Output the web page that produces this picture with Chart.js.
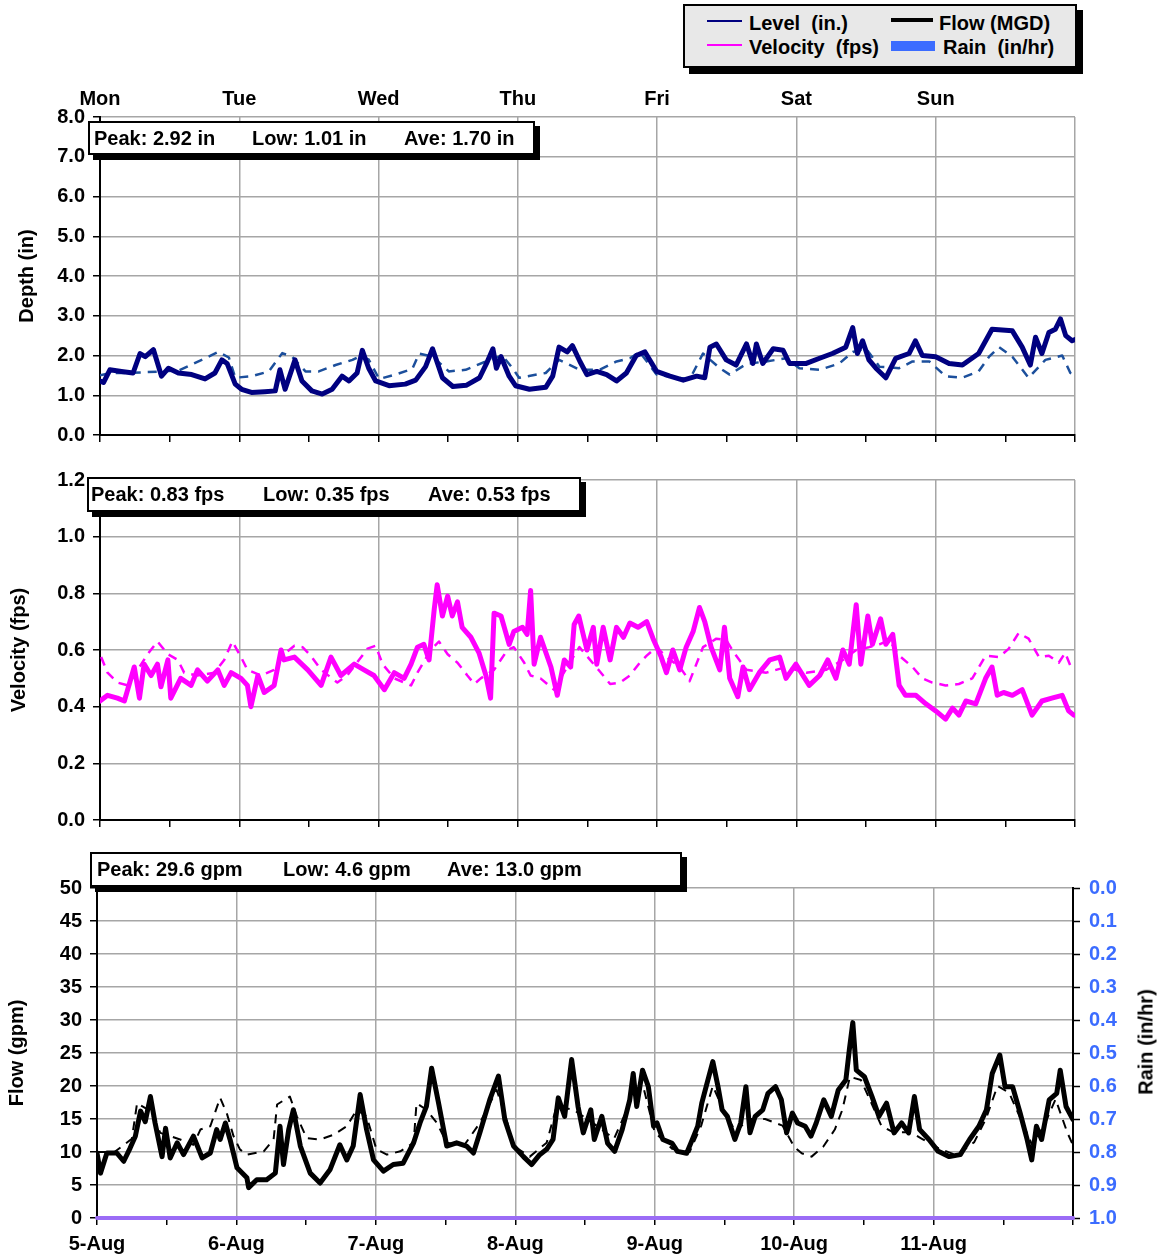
<!DOCTYPE html>
<html>
<head>
<meta charset="utf-8">
<script src="https://cdn.jsdelivr.net/npm/chart.js@4.4.1/dist/chart.umd.min.js"></script>
<style>
    body { margin: 0; background: #fff; font-family: 'Liberation Sans', Arial, sans-serif; }
    #page { position: relative; width: 1162px; height: 1260px; overflow: hidden; }
    canvas { position: absolute; left: 0; }
    .box {
        position: absolute; background: #fff; border: 2px solid #000;
        box-shadow: 5px 5px 0 #000; font-weight: bold; font-size: 20px;
        box-sizing: border-box; z-index: 5; white-space: nowrap;
    }
    .box span { position: absolute; top: 4px; }
    #legend { background: #e8e8e8; box-shadow: 6px 6px 0 #000; }
    .rot { position: absolute; font-weight: bold; font-size: 20px; transform: translate(-50%, -50%) rotate(-90deg); white-space: nowrap; }
</style>
</head>
<body>
<div id="page">
    <div id="legend" class="box" style="left:683px; top:4px; width:394px; height:64px;">
        <div style="position:absolute; left:22px; top:14px; width:35px; height:2px; background:#000080;"></div>
        <span style="left:64px; top:6px;">Level&nbsp; (in.)</span>
        <div style="position:absolute; left:22px; top:38px; width:35px; height:2px; background:#ff00ff;"></div>
        <span style="left:64px; top:30px;">Velocity&nbsp; (fps)</span>
        <div style="position:absolute; left:206px; top:12px; width:42px; height:4px; background:#000;"></div>
        <span style="left:254px; top:6px;">Flow (MGD)</span>
        <div style="position:absolute; left:206px; top:35px; width:44px; height:10px; background:#3b6cff;"></div>
        <span style="left:258px; top:30px;">Rain&nbsp; (in/hr)</span>
    </div>

    <canvas id="levelChart" width="1162" height="375" style="top:80px"></canvas>
    <canvas id="velocityChart" width="1162" height="380" style="top:460px"></canvas>
    <canvas id="flowChart" width="1162" height="415" style="top:845px"></canvas>

    <div class="box" style="left:88px; top:121px; width:447px; height:34px;">
        <span style="left:4px;">Peak: 2.92 in</span>
        <span style="left:162px;">Low: 1.01 in</span>
        <span style="left:314px;">Ave: 1.70 in</span>
    </div>
    <div class="box" style="left:87px; top:477px; width:494px; height:35px;">
        <span style="left:2px;">Peak: 0.83 fps</span>
        <span style="left:174px;">Low: 0.35 fps</span>
        <span style="left:339px;">Ave: 0.53 fps</span>
    </div>
    <div class="box" style="left:90px; top:852px; width:592px; height:35px;">
        <span style="left:5px;">Peak: 29.6 gpm</span>
        <span style="left:191px;">Low: 4.6 gpm</span>
        <span style="left:355px;">Ave: 13.0 gpm</span>
    </div>

    <div class="rot" style="left:1146px; top:1042px;">Rain (in/hr)</div>
</div>

<script>
// time axis is in hours from Monday 00:00 (0..168)
const dayNames = ['Mon', 'Tue', 'Wed', 'Thu', 'Fri', 'Sat', 'Sun'];
const dateLabels = ['5-Aug', '6-Aug', '7-Aug', '8-Aug', '9-Aug', '10-Aug', '11-Aug'];

// Level (in)
const levelTimes = [0,0.6,1.7,3.7,5.7,6.9,7.8,9.2,10.6,11.8,13.5,15.8,18.1,19.8,21,21.9,23.3,24.4,26.1,28.4,30.2,31,31.9,33.6,34.8,36.5,38.3,40,41.7,42.9,44.3,45.2,46.3,47.5,49.8,52.6,54.4,56.1,57.3,59,60.8,63.1,65.4,66.6,67.7,68.3,69.1,70.5,71.6,74,76.8,78,79.1,80.5,81.4,82.7,83.9,85.6,87.3,89,90.7,92.4,93.9,95.9,98.2,100.5,102.8,104.2,105.1,106.2,107.9,109.6,111.4,112.5,113.1,114.2,116,117.7,118.8,121.7,124,126.2,128.5,129.7,130.5,131.4,132.5,133.7,135.4,137.1,139.4,140.5,141.7,144,146.3,148.6,151.4,153.7,157.2,158.9,160.3,161.2,162.3,163.5,164.6,165.5,166.4,167.5,168];
const levelValues = [1.36,1.32,1.64,1.6,1.56,2.05,1.97,2.15,1.48,1.68,1.56,1.52,1.41,1.56,1.89,1.8,1.28,1.15,1.07,1.09,1.11,1.64,1.15,1.89,1.36,1.11,1.03,1.15,1.48,1.36,1.56,2.13,1.68,1.36,1.24,1.28,1.38,1.72,2.17,1.44,1.22,1.25,1.44,1.8,2.17,1.68,1.97,1.48,1.24,1.15,1.2,1.48,2.21,2.09,2.25,1.85,1.52,1.6,1.52,1.36,1.56,2.0,2.09,1.6,1.48,1.38,1.48,1.44,2.21,2.29,1.89,1.76,2.29,1.8,2.29,1.8,2.17,2.13,1.8,1.8,1.93,2.05,2.21,2.7,2.05,2.37,1.89,1.68,1.44,1.93,2.05,2.37,2.0,1.97,1.8,1.76,2.05,2.66,2.62,2.21,1.76,2.46,2.05,2.58,2.66,2.92,2.5,2.37,2.4];
const levelPrevTimes = [0,2,4.9,10.6,13.5,18.1,20.4,22.2,23.3,26.2,29.1,31.4,33.1,35.4,37.7,40.6,43.5,44.6,46.3,48.1,50.9,53.8,55,57.3,60.1,63,66.5,69.3,71.1,72.2,76.8,79.1,82.7,86.1,89,91.3,93,95.9,101.6,103.9,106.8,108.5,111.4,114.8,118.2,120.5,124,127.4,129.7,132,134.3,137.7,140,142.9,145.7,148.6,151.4,153.2,154.9,157.2,160,162.9,165.8,167.2,168];
const levelPrevValues = [1.5,1.56,1.56,1.6,1.62,1.93,2.09,1.95,1.44,1.48,1.6,2.06,1.97,1.6,1.6,1.76,1.89,1.97,1.9,1.41,1.52,1.66,2.05,1.97,1.6,1.64,1.85,2.0,1.68,1.44,1.56,1.89,1.64,1.64,1.85,1.93,2.09,1.52,1.4,2.05,1.68,1.52,1.79,1.85,1.93,1.68,1.64,1.8,2.09,2.17,1.72,1.68,1.85,1.85,1.48,1.44,1.6,1.97,2.21,1.97,1.44,1.89,2.0,1.56,1.5];

// Velocity (fps)
const velocityTimes = [0,1.3,3,4.2,5.9,6.8,7.6,8.8,9.9,10.5,11.7,12.2,13.9,15.7,16.8,18.5,20.3,21.4,22.6,24.3,25.4,26,27.2,28.3,30,31.2,31.7,33.5,35.8,38.1,39.8,41.5,43.8,45.5,47.2,49,50.7,52.4,53.6,54.7,55.8,56.7,57.6,58.1,59,59.9,60.7,61.6,62.4,63.9,65.3,66.5,67.3,67.9,69.1,70.5,71.3,72.8,73.6,74.2,74.8,75.9,77.7,78.8,80,81.1,81.7,82.5,83.9,85,85.6,86.7,87.9,89,90.2,91.3,92.7,94.2,95.3,96.7,97.6,98.7,99.9,101,102.2,103.3,104.2,105.3,106.8,107.6,108.5,109.9,110.8,111.9,113.6,115.4,117.1,118.2,119.9,122.2,124,125.4,126.8,128,129.1,130.3,131.1,132.3,133.1,134.5,135.4,136.6,137.7,138.8,140.6,142.3,144,145.7,146.9,148,149.2,150.9,152.6,153.7,154.6,155.7,157.2,158.9,160.6,162.3,164,165.8,166.9,167.8];
const velocityValues = [0.42,0.44,0.43,0.42,0.54,0.43,0.55,0.51,0.55,0.47,0.565,0.43,0.5,0.475,0.53,0.49,0.53,0.475,0.52,0.5,0.475,0.4,0.51,0.45,0.475,0.6,0.565,0.575,0.53,0.475,0.575,0.51,0.55,0.53,0.51,0.46,0.52,0.5,0.55,0.61,0.62,0.565,0.746,0.83,0.72,0.79,0.72,0.77,0.68,0.645,0.59,0.51,0.43,0.73,0.72,0.62,0.665,0.68,0.655,0.81,0.55,0.645,0.54,0.44,0.565,0.54,0.69,0.72,0.6,0.68,0.55,0.68,0.565,0.68,0.645,0.695,0.68,0.7,0.64,0.575,0.52,0.6,0.53,0.61,0.665,0.75,0.7,0.61,0.53,0.68,0.5,0.435,0.54,0.46,0.52,0.565,0.575,0.5,0.55,0.475,0.51,0.565,0.5,0.6,0.55,0.76,0.55,0.72,0.62,0.71,0.62,0.655,0.475,0.44,0.44,0.41,0.385,0.356,0.395,0.37,0.42,0.41,0.5,0.54,0.44,0.45,0.44,0.46,0.37,0.42,0.43,0.44,0.385,0.37];
const velocityPrevTimes = [0.2,1.3,3,4.8,8.2,9.9,11.7,13.4,14.5,16.8,19.7,21.4,22.8,24.3,25.4,27.7,30,31.7,33.5,34.9,36.3,38.1,40.9,42.6,46.1,47.5,48.7,50.7,53.6,54.7,57,58.4,59.9,61.6,63.3,64.5,65.6,67.9,70.2,71.3,73.1,74.2,75.9,78.2,80.5,82.6,86.1,87.9,89.6,91.3,93,94.2,95.9,97.6,99.9,101.6,103.9,106.2,107.9,109.1,111.4,114.8,118.2,121.7,125.1,128,130.3,132.5,134.3,136,137.7,140,141.7,143.4,145.7,148,150.3,152.6,154.9,156.6,158.3,160,161.8,163.5,165.2,166.3,167.5];
const velocityPrevValues = [0.575,0.52,0.485,0.475,0.585,0.63,0.585,0.565,0.52,0.51,0.52,0.565,0.63,0.575,0.53,0.51,0.53,0.585,0.615,0.61,0.58,0.53,0.485,0.51,0.605,0.615,0.55,0.5,0.475,0.52,0.6,0.63,0.585,0.555,0.51,0.48,0.5,0.53,0.6,0.61,0.555,0.51,0.5,0.46,0.54,0.61,0.525,0.48,0.485,0.51,0.555,0.58,0.61,0.575,0.54,0.49,0.61,0.64,0.635,0.595,0.53,0.52,0.54,0.52,0.53,0.565,0.6,0.61,0.62,0.635,0.58,0.54,0.5,0.485,0.475,0.48,0.5,0.58,0.575,0.605,0.66,0.64,0.575,0.58,0.555,0.59,0.53];

// Flow (gpm)
const flowTimes = [0,0.6,1.7,3.4,4.6,5.7,6.6,7.5,8.3,9.2,10,11.2,11.8,12.6,13.8,14.9,16.6,18.1,19.5,20.6,21.2,22.1,22.9,24.1,25.8,26.1,27.5,29.2,30.7,31.5,32.1,33,33.8,35,36.7,38.4,40.1,41.8,43,44.1,45.3,46.4,47.6,49.3,51,52.7,54.5,55.6,56.7,57.6,58.8,60.2,61.9,63.6,64.8,65.9,67.6,69.1,70.2,71.7,73.4,74.8,76.2,77.4,78.5,79.4,80.5,81.7,82.8,83.7,85,85.6,86.9,87.9,89.1,90.4,91.7,92.3,92.9,93.9,94.9,95.8,96.4,97.4,99,99.9,101.5,102.2,103.4,104.1,105,106,106.9,107.6,108.5,109.8,110.8,111.7,112.4,113.3,114.6,115.5,116.8,117.8,118.7,119.7,120.6,121.9,122.9,123.8,125.1,126.4,127.6,128.9,129.5,130.1,130.7,132.1,133.4,134.6,135.9,137.2,138.5,139.7,140.7,141.6,143.2,144.8,146.7,148.6,150.2,151.8,153.1,154.1,155.4,156.3,157.6,158.9,160.1,160.9,161.7,162.6,163.9,165.2,165.8,166.8,168];
const flowValues = [9.85,6.8,9.85,9.85,8.6,10.6,12.4,16.2,14.6,18.4,14.4,9.3,13.6,9.1,11.4,9.6,12.4,9.1,9.85,13.4,11.9,14.4,11.9,7.6,6.1,4.6,5.8,5.8,6.8,13.9,8.1,13.4,16.4,10.9,6.8,5.3,7.3,11.1,8.8,10.9,18.7,13.4,8.8,7.1,8.1,8.3,11.4,14.4,16.9,22.7,17.4,10.9,11.4,10.9,9.85,12.9,17.9,21.5,14.9,10.9,9.3,8.1,9.6,10.4,11.9,18.2,15.4,24,16.9,12.9,16.4,11.9,15.4,11.3,10.1,13.4,17.9,21.9,16.9,22.4,19.9,13.9,14.4,11.9,11.3,10.1,9.8,11.3,13.9,17.4,20.4,23.7,19.9,16.4,15.4,11.9,14.4,19.9,12.9,15.4,16.4,18.9,19.9,17.9,12.9,15.9,14.4,13.9,12.4,14.4,17.9,15.4,19.4,20.9,25.5,29.6,22.4,21.4,18.4,15.4,17.4,12.9,14.4,12.9,18.4,13.4,11.9,10.1,9.3,9.6,11.9,13.9,16.4,21.9,24.7,19.9,19.9,15.9,11.9,8.8,13.9,11.9,17.9,18.9,22.4,16.9,14.9];
const flowPrevTimes = [0,3,6,6.9,9.2,10.9,14.3,16.6,17.8,19.5,21.2,22.4,23.5,24.6,25.8,28.7,30.4,31,33.2,34.4,36.1,38.4,40.7,43,44.7,46.4,48.1,49.9,52.2,54.5,55,56.7,58.5,60.2,63.1,65.9,68.8,70.5,71.7,74.5,77.4,79.1,82,86,89,92,94,96,99,102,104,106,108,110,112,115,118,120,121.3,123,125,127,128.3,129.6,131.5,133,135,137,140,142,145,148,151,153,155,157,159,161,163,165,167,168];
const flowPrevValues = [10,10,12,17.4,16.2,12.9,11.9,11.1,13.4,13.9,18.2,15.7,12.4,10.4,9.6,10.1,11.9,17.2,18.4,15.4,12.1,11.9,12.6,13.9,16.4,15.4,10.4,9.6,10.1,11.4,17.4,16.4,14.4,11.4,10.9,14.4,19.4,14.9,10.9,9.3,11.4,16.9,16.4,14,12,18,20,13,10.5,10,14,20,16,13,15,15,14,10.8,9.8,9.3,10.8,13.4,16.4,21.4,20.9,18,14,13,13,12,10.5,9.5,11.5,15,20,19,15,11,14,18,13,11];

// Rain (in/hr) - none recorded, drawn along the base of the flow panel
const rainTimes = [0, 168];
const rainValues = [0, 0];

const FONT = { family: "'Liberation Sans', Arial, sans-serif", size: 20, weight: 'bold' };
const GRID = '#a6a6a6';

function pts(times, values) {
    return times.map((t, i) => ({ x: t, y: values[i] }));
}

function timeAxis(opts) {
    return {
        type: 'linear', min: 0, max: 168,
        afterFit: s => { s.height = opts.height; },
        afterBuildTicks: s => { s.ticks = Array.from({ length: 15 }, (_, i) => ({ value: i * 12 })); },
        grid: {
            color: c => (c.tick && c.tick.value % 24 === 0 && c.tick.value > 0 && c.tick.value < opts.lastGrid) ? GRID : 'rgba(0,0,0,0)',
            lineWidth: 1.5,
            tickColor: '#000', tickLength: 7, tickWidth: 1.5
        },
        border: { color: '#000', width: 2 },
        ticks: {
            display: opts.labels, autoSkip: false, maxRotation: 0, padding: 7,
            color: '#000', font: FONT,
            callback: v => (v % 24 === 0 && dateLabels[v / 24]) ? dateLabels[v / 24] : ''
        }
    };
}

function valueAxis(min, max, step, width, digits, titleText, titlePad) {
    return {
        type: 'linear', min: min, max: max,
        afterFit: s => { s.width = width; },
        ticks: { stepSize: step, color: '#000', font: FONT, padding: 8, callback: v => v.toFixed(digits) },
        grid: {
            color: c => (c.tick && c.tick.value > min) ? GRID : 'rgba(0,0,0,0)',
            lineWidth: 1.5, tickColor: '#000', tickLength: 7, tickWidth: 1.5
        },
        border: { color: '#000', width: 2 },
        title: { display: true, text: titleText, color: '#000', font: FONT, padding: { top: titlePad, bottom: 0 } }
    };
}

const commonOptions = {
    responsive: false, animation: false, devicePixelRatio: 1,
    plugins: { legend: { display: false }, tooltip: { enabled: false } },
    elements: { point: { radius: 0 }, line: { tension: 0, borderJoinStyle: 'round', borderCapStyle: 'round' } }
};

function solid(data, color, width) {
    return { data: data, borderColor: color, borderWidth: width };
}
function dashed(data, color, width) {
    return { data: data, borderColor: color, borderWidth: width, borderDash: [9, 7], borderCapStyle: 'butt' };
}

// Level chart
new Chart(document.getElementById('levelChart'), {
    type: 'line',
    data: { datasets: [
        solid(pts(levelTimes, levelValues), '#000080', 5),
        dashed(pts(levelPrevTimes, levelPrevValues), '#1c4f9c', 2.5)
    ] },
    options: Object.assign({}, commonOptions, {
        layout: { padding: { left: 0, right: 87, top: 0, bottom: 0 } },
        scales: {
            x: timeAxis({ height: 12, labels: false, lastGrid: 169 }),
            days: {
                type: 'linear', position: 'top', min: 0, max: 168,
                afterFit: s => { s.height = 37; },
                afterBuildTicks: s => { s.ticks = dayNames.map((_, i) => ({ value: i * 24 })); },
                grid: { display: false }, border: { display: false },
                ticks: { color: '#000', font: FONT, padding: -2, maxRotation: 0, autoSkip: false,
                    callback: v => dayNames[v / 24] || '' }
            },
            y: valueAxis(0, 8, 1, 100, 1, 'Depth (in)', 15)
        }
    })
});

// Velocity chart
new Chart(document.getElementById('velocityChart'), {
    type: 'line',
    data: { datasets: [
        solid(pts(velocityTimes, velocityValues), '#ff00ff', 5),
        dashed(pts(velocityPrevTimes, velocityPrevValues), '#ff00ff', 2.5)
    ] },
    options: Object.assign({}, commonOptions, {
        layout: { padding: { left: 0, right: 87, top: 18, bottom: 0 } },
        scales: {
            x: timeAxis({ height: 12, labels: false, lastGrid: 169 }),
            y: valueAxis(0, 1.2, 0.2, 100, 1, 'Velocity (fps)', 7)
        }
    })
});

// Flow chart
const rainAxis = {
    type: 'linear', position: 'right', min: 0, max: 1, reverse: true,
    afterFit: s => { s.width = 89; },
    ticks: { stepSize: 0.1, color: '#3b6cff', font: FONT, padding: 9, callback: v => v.toFixed(1) },
    grid: { drawOnChartArea: false, tickColor: '#000', tickLength: 7, tickWidth: 1.5 },
    border: { color: '#000', width: 2 }
};
new Chart(document.getElementById('flowChart'), {
    type: 'line',
    data: { datasets: [
        solid(pts(flowTimes, flowValues), '#000', 5),
        dashed(pts(flowPrevTimes, flowPrevValues), '#000', 2),
        Object.assign(solid(pts(rainTimes, rainValues), '#9b6cf6', 4), { clip: false })
    ] },
    options: Object.assign({}, commonOptions, {
        layout: { padding: { left: 0, right: 0, top: 43, bottom: 0 } },
        scales: {
            x: timeAxis({ height: 42, labels: true, lastGrid: 168 }),
            y: valueAxis(0, 50, 5, 97, 0, 'Flow (gpm)', 5),
            y2: rainAxis
        }
    })
});
</script>
</body>
</html>
